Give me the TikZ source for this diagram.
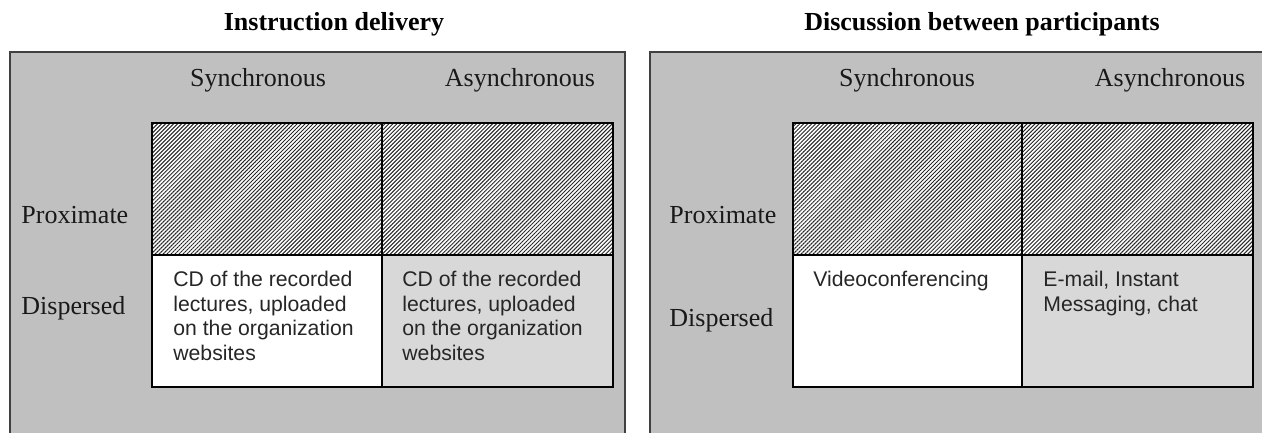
\documentclass[tikz,border=0pt]{standalone}
\usepackage{fontspec}
\setmainfont{Liberation Serif}
\newfontfamily\cellfont{Liberation Sans}
\usetikzlibrary{patterns.meta}
\definecolor{panelgray}{HTML}{C0C0C0}
\definecolor{cellgray}{HTML}{D8D8D8}
\tikzset{
	hatchcell/.style={pattern={Lines[angle=45,distance=1.41pt,line width=0.5pt]}, pattern color=black!85},
	gridline/.style={line width=0.8pt},
	panelline/.style={line width=0.6pt, color=black!75},
	headlabel/.style={font=\fontsize{13}{15}\selectfont, text=black!90},
	titlelabel/.style={font=\fontsize{13}{15}\selectfont\bfseries},
	celltext/.style={anchor=north west, align=left, inner sep=0pt, text=black!85,
		font=\cellfont\fontsize{10.6}{12.25}\selectfont},
}

\begin{document}
\begin{tikzpicture}[x=0.5pt, y=-0.5pt]
		%%%%% START %%%%%
		\useasboundingbox (0, 0) rectangle (1262, 433);
		\clip (0, 0) rectangle (1262, 433);
		
		% panels
		\draw[panelline, fill=panelgray] (10, 52) rectangle (625, 445);
		\draw[panelline, fill=panelgray] (650, 52) rectangle (1280, 445);
		
		% instruction delivery grid
		\fill[white] (152, 123) rectangle (613, 255);
		\fill[hatchcell] (152, 123) rectangle (613, 255);
		\fill[white] (152, 255) rectangle (382, 387);
		\fill[cellgray] (382, 255) rectangle (613, 387);
		\draw[gridline] (152, 123) rectangle (613, 387);
		\draw[gridline] (382, 123) -- (382, 387);
		\draw[gridline] (152, 255) -- (613, 255);
		
		% discussion grid
		\fill[white] (793, 123) rectangle (1253, 255);
		\fill[hatchcell] (793, 123) rectangle (1253, 255);
		\fill[white] (793, 255) rectangle (1022, 387);
		\fill[cellgray] (1022, 255) rectangle (1253, 387);
		\draw[gridline] (793, 123) rectangle (1253, 387);
		\draw[gridline] (1022, 123) -- (1022, 387);
		\draw[gridline] (793, 255) -- (1253, 255);
		
		% titles
		\node[titlelabel] (instrtitle) at (334, 24) {Instruction delivery};
		\node[titlelabel] (disctitle) at (982, 24) {Discussion between participants};
		
		% headings, left
		\node[headlabel] (instrsync) at (258, 80) {Synchronous};
		\node[headlabel] (instrasync) at (520, 80) {Asynchronous};
		\node[headlabel, anchor=west, inner sep=0pt] (instrprox) at (21, 215) {Proximate};
		\node[headlabel, anchor=west, inner sep=0pt] (instrdisp) at (21, 308) {Dispersed};
		
		% headings, right
		\node[headlabel] (discsync) at (907, 80) {Synchronous};
		\node[headlabel] (discasync) at (1170, 80) {Asynchronous};
		\node[headlabel, anchor=west, inner sep=0pt] (discprox) at (669, 215) {Proximate};
		\node[headlabel, anchor=west, inner sep=0pt] (discdisp) at (669, 320) {Dispersed};
		
		% cell texts
		\node[celltext] (instrcd) at (173, 271) {CD of the recorded\\lectures, uploaded\\on the organization\\websites};
		\node[celltext] (instrweb) at (402, 271) {CD of the recorded\\lectures, uploaded\\on the organization\\websites};
		\node[celltext] (discvideo) at (813, 271) {Videoconferencing};
		\node[celltext] (discmail) at (1043, 271) {E-mail, Instant\\Messaging, chat};
		%%%%% END %%%%%
	\end{tikzpicture}
\end{document}
